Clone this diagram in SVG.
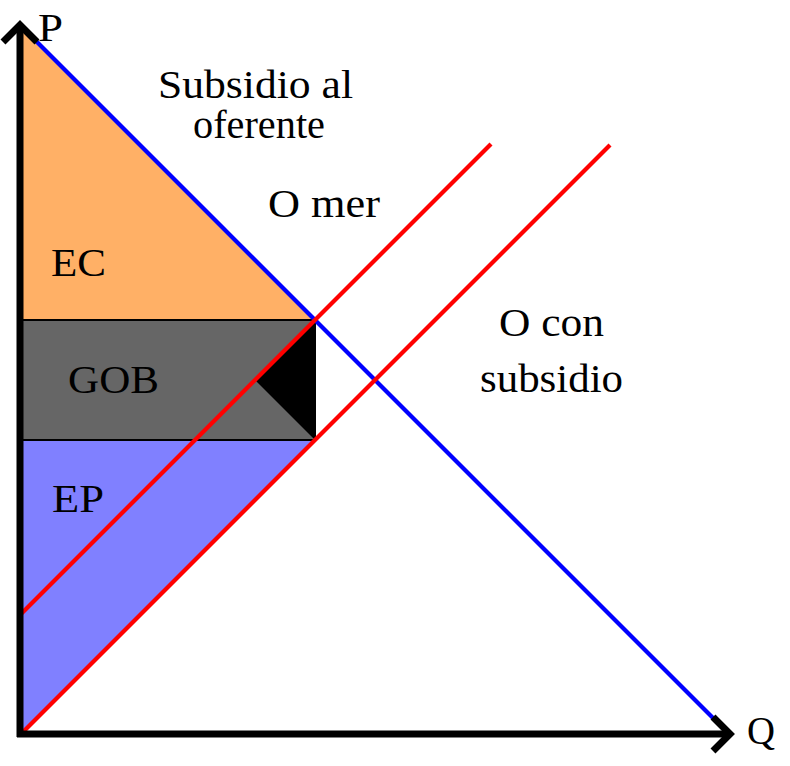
<svg xmlns="http://www.w3.org/2000/svg" width="790" height="766" viewBox="0 0 790 766">
<style>
text{font-family:"Liberation Serif","Times New Roman",serif;font-size:39px;fill:#000}
.curve{fill:none;stroke-width:4.2;stroke-linecap:butt}
.axis{fill:none;stroke:#000;stroke-width:7}
</style>
<rect width="790" height="766" fill="#fff"/>
<g id="areas">
<g id="ec"><polygon points="20,25 315,320 20,320" fill="#FFB066"/></g>
<g id="gob"><rect x="20" y="320" width="295" height="120" fill="#666666" stroke="#000" stroke-width="2"/>
<polygon points="315,320 255,380 315,440" fill="#000"/></g>
<g id="ep"><polygon points="20,440 315,440 20,735" fill="#8080FF"/>
<line x1="20" y1="440" x2="315" y2="440" stroke="#000" stroke-width="2"/></g>
</g>
<g id="connectors">
<line class="curve" x1="20" y1="25" x2="728" y2="733" stroke="#0000FF"/>
<line class="curve" x1="20" y1="615" x2="491" y2="144" stroke="#FF0000"/>
<line class="curve" x1="20" y1="735" x2="610" y2="145" stroke="#FF0000"/>
<g id="axes">
<line class="axis" x1="20" y1="28" x2="20" y2="737"/>
<line class="axis" x1="17" y1="734" x2="727" y2="734"/>
<polyline class="axis" points="3,42 20,25 37,42" stroke-width="5"/>
<polyline class="axis" points="713,717 730,734 713,751" stroke-width="5"/>
</g>
</g>
<g id="labels">
<text x="38" y="41" textLength="25" lengthAdjust="spacingAndGlyphs">P</text>
<text x="747" y="744" textLength="28" lengthAdjust="spacingAndGlyphs">Q</text>
<text x="158" y="98" font-size="35" textLength="195" lengthAdjust="spacingAndGlyphs">Subsidio al</text>
<text x="193" y="138" font-size="35" textLength="132" lengthAdjust="spacingAndGlyphs">oferente</text>
<text x="268" y="217" textLength="112" lengthAdjust="spacingAndGlyphs">O mer</text>
<text x="51" y="276" textLength="55" lengthAdjust="spacingAndGlyphs">EC</text>
<text x="68" y="393" textLength="91" lengthAdjust="spacingAndGlyphs">GOB</text>
<text x="52" y="512" textLength="52" lengthAdjust="spacingAndGlyphs">EP</text>
<text x="499" y="336" textLength="105" lengthAdjust="spacingAndGlyphs">O con</text>
<text x="480" y="392" textLength="143" lengthAdjust="spacingAndGlyphs">subsidio</text>
</g>
</svg>
